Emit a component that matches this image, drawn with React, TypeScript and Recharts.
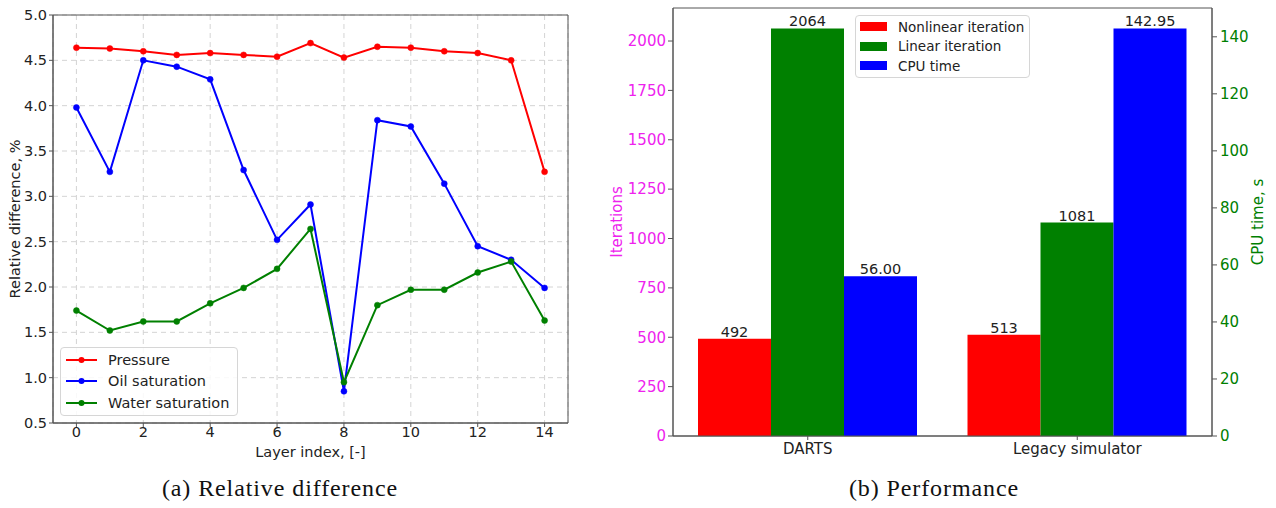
import React from "react";
import {
  LineChart,
  Line,
  BarChart,
  Bar,
  XAxis,
  YAxis,
  CartesianGrid,
  Legend,
  ReferenceArea,
  LabelList,
} from "recharts";

// (a) relative difference per layer
const layers = [0, 1, 2, 3, 4, 5, 6, 7, 8, 9, 10, 11, 12, 13, 14];
const pressure = [4.64, 4.63, 4.6, 4.56, 4.58, 4.56, 4.54, 4.69, 4.53, 4.65, 4.64, 4.6, 4.58, 4.5, 3.27];
const oilSaturation = [3.98, 3.27, 4.5, 4.43, 4.29, 3.29, 2.52, 2.91, 0.85, 3.84, 3.77, 3.14, 2.45, 2.3, 1.99];
const waterSaturation = [1.74, 1.52, 1.62, 1.62, 1.82, 1.99, 2.2, 2.64, 0.95, 1.8, 1.97, 1.97, 2.16, 2.28, 1.63];
const layerTicks = [0, 2, 4, 6, 8, 10, 12, 14];
const diffTicks = [0.5, 1.0, 1.5, 2.0, 2.5, 3.0, 3.5, 4.0, 4.5, 5.0];

// (b) performance
const simulators = ["DARTS", "Legacy simulator"];
const nonlinearIterations = [492, 513];
const linearIterations = [2064, 1081];
const cpuTime = [56.0, 142.95];
const iterationTicks = [0, 250, 500, 750, 1000, 1250, 1500, 1750, 2000];
const cpuTicks = [0, 20, 40, 60, 80, 100, 120, 140];

const FONT = "'DejaVu Sans', sans-serif";
const SERIF = "'Liberation Serif', serif";
const AXIS = "#555";
const TEXT = "#222";
const MAGENTA = "#ee22ee";
const GREEN = "#008000";

const layerRows = layers.map((layer, i) => ({
  layer,
  pressure: pressure[i],
  oil: oilSaturation[i],
  water: waterSaturation[i],
}));

const perfRows = simulators.map((simulator, i) => ({
  simulator,
  nonlinear: nonlinearIterations[i],
  linear: linearIterations[i],
  cpu: cpuTime[i],
}));

const lineSeries = [
  { key: "pressure", name: "Pressure", color: "#ff0000" },
  { key: "oil", name: "Oil saturation", color: "#0000ff" },
  { key: "water", name: "Water saturation", color: "#008000" },
];

const barSeries = [
  { key: "nonlinear", name: "Nonlinear iteration", color: "#ff0000" },
  { key: "linear", name: "Linear iteration", color: "#008000" },
  { key: "cpu", name: "CPU time", color: "#0000ff" },
];

const legendBox: React.CSSProperties = {
  boxSizing: "border-box",
  border: "1px solid #d6d6d6",
  borderRadius: 4,
  background: "rgba(255,255,255,0.85)",
  fontFamily: FONT,
  color: TEXT,
};

// keep matplotlib's legend order (recharts sorts payload by name)
const renderLineLegend = () => (
  <div style={{ ...legendBox, width: 178, height: 69, padding: "1px 0 0 5px", fontSize: 14.5 }}>
    {lineSeries.map((s) => (
      <div key={s.key} style={{ display: "flex", alignItems: "center", height: 21.5 }}>
        <svg width={31} height={10} style={{ marginRight: 11 }}>
          <line x1={0} y1={5} x2={31} y2={5} stroke={s.color} strokeWidth={2} />
          <circle cx={15.5} cy={5} r={3} fill={s.color} />
        </svg>
        <span>{s.name}</span>
      </div>
    ))}
  </div>
);

const renderBarLegend = () => (
  <div style={{ ...legendBox, width: 175, height: 63, padding: "1px 0 0 4px", fontSize: 13.5 }}>
    {barSeries.map((s) => (
      <div key={s.key} style={{ display: "flex", alignItems: "center", height: 19.5 }}>
        <div style={{ width: 27, height: 9, background: s.color, marginRight: 11 }} />
        <span>{s.name}</span>
      </div>
    ))}
  </div>
);

function RelativeDifference() {
  return (
    <LineChart
      width={580}
      height={470}
      data={layerRows}
      margin={{ top: 15, right: 12, bottom: 7, left: 0 }}
    >
      <CartesianGrid stroke="#d4d4d4" strokeDasharray="5 4" />
      <XAxis
        dataKey="layer"
        type="number"
        domain={[-0.7, 14.7]}
        ticks={layerTicks}
        allowDataOverflow
        height={40}
        tickSize={4}
        tickMargin={0}
        stroke={AXIS}
        tick={{ fill: TEXT, fontSize: 14.5, fontFamily: FONT }}
        label={{
          value: "Layer index, [-]",
          position: "insideBottom",
          offset: 6,
          fill: TEXT,
          fontSize: 14.5,
          fontFamily: FONT,
        }}
      />
      <YAxis
        type="number"
        domain={[0.5, 5]}
        ticks={diffTicks}
        allowDataOverflow
        width={53}
        tickSize={4}
        tickMargin={2}
        stroke={AXIS}
        tickFormatter={(v: number) => v.toFixed(1)}
        tick={{ fill: TEXT, fontSize: 14.5, fontFamily: FONT }}
        label={{
          value: "Relative difference, %",
          angle: -90,
          position: "insideLeft",
          offset: 15,
          style: { textAnchor: "middle" },
          fill: TEXT,
          fontSize: 14.5,
          fontFamily: FONT,
        }}
      />
      <ReferenceArea y1={0.5} y2={5} fill="none" stroke={AXIS} strokeWidth={1} />
      {lineSeries.map((s) => (
        <Line
          key={s.key}
          dataKey={s.key}
          name={s.name}
          stroke={s.color}
          strokeWidth={2}
          dot={{ r: 3, fill: s.color, stroke: s.color, strokeWidth: 0.5 }}
          activeDot={false}
          isAnimationActive={false}
        />
      ))}
      <Legend
        layout="vertical"
        align="center"
        verticalAlign="middle"
        content={renderLineLegend}
        wrapperStyle={{ left: 60, top: 347, width: 178, height: 69 }}
      />
    </LineChart>
  );
}

function Performance() {
  const labelStyle = { fill: TEXT, fontSize: 14.5, fontFamily: FONT };
  return (
    <BarChart
      width={686}
      height={470}
      data={perfRows}
      margin={{ top: 8, right: 0, bottom: 4, left: 0 }}
      barGap={0}
      barSize={73}
    >
      <XAxis
        dataKey="simulator"
        height={30}
        tickSize={4}
        tickMargin={3}
        stroke={AXIS}
        tick={{ fill: TEXT, fontSize: 15, fontFamily: FONT }}
      />
      <YAxis
        yAxisId="iter"
        type="number"
        domain={[0, 2167.2]}
        ticks={iterationTicks}
        allowDataOverflow
        width={83}
        tickSize={5}
        tickMargin={2}
        stroke={AXIS}
        tick={{ fill: MAGENTA, fontSize: 15, fontFamily: FONT }}
        label={{
          value: "Iterations",
          angle: -90,
          position: "insideLeft",
          offset: 27,
          style: { textAnchor: "middle" },
          fill: MAGENTA,
          fontSize: 15,
          fontFamily: FONT,
        }}
      />
      <YAxis
        yAxisId="cpu"
        orientation="right"
        type="number"
        domain={[0, 150.1]}
        ticks={cpuTicks}
        allowDataOverflow
        width={64}
        tickSize={5}
        tickMargin={3}
        stroke={AXIS}
        tick={{ fill: GREEN, fontSize: 15, fontFamily: FONT }}
        label={{
          value: "CPU time, s",
          angle: -90,
          position: "insideRight",
          offset: 18,
          style: { textAnchor: "middle" },
          fill: GREEN,
          fontSize: 15,
          fontFamily: FONT,
        }}
      />
      <Bar yAxisId="iter" dataKey="nonlinear" name="Nonlinear iteration" fill="#ff0000" isAnimationActive={false}>
        <LabelList dataKey="nonlinear" position="top" offset={2} style={labelStyle} />
      </Bar>
      <Bar yAxisId="iter" dataKey="linear" name="Linear iteration" fill="#008000" isAnimationActive={false}>
        <LabelList dataKey="linear" position="top" offset={2} style={labelStyle} />
      </Bar>
      <Bar yAxisId="cpu" dataKey="cpu" name="CPU time" fill="#0000ff" isAnimationActive={false}>
        <LabelList
          dataKey="cpu"
          position="top"
          offset={2}
          style={labelStyle}
          formatter={(v: any) => Number(v).toFixed(2)}
        />
      </Bar>
      <ReferenceArea yAxisId="iter" y1={0} y2={2167.2} fill="none" stroke={AXIS} strokeWidth={1} />
      <Legend
        layout="vertical"
        align="center"
        verticalAlign="middle"
        content={renderBarLegend}
        wrapperStyle={{ left: 265, top: 15, width: 175, height: 63 }}
      />
    </BarChart>
  );
}

const captionStyle: React.CSSProperties = {
  position: "absolute",
  top: 476,
  width: 400,
  textAlign: "center",
  fontFamily: SERIF,
  fontSize: 24,
  letterSpacing: 0.9,
  lineHeight: 1,
  color: "#111",
};

export default function App() {
  return (
    <div
      style={{
        position: "absolute",
        left: 0,
        top: 0,
        width: 1276,
        height: 508,
        background: "#fff",
        overflow: "hidden",
      }}
    >
      <div style={{ position: "absolute", left: 0, top: 0 }}>
        <RelativeDifference />
      </div>
      <div style={{ position: "absolute", left: 590, top: 0 }}>
        <Performance />
      </div>
      <div style={{ ...captionStyle, left: 280 - 200 }}>(a) Relative difference</div>
      <div style={{ ...captionStyle, left: 934 - 200 }}>(b) Performance</div>
    </div>
  );
}
